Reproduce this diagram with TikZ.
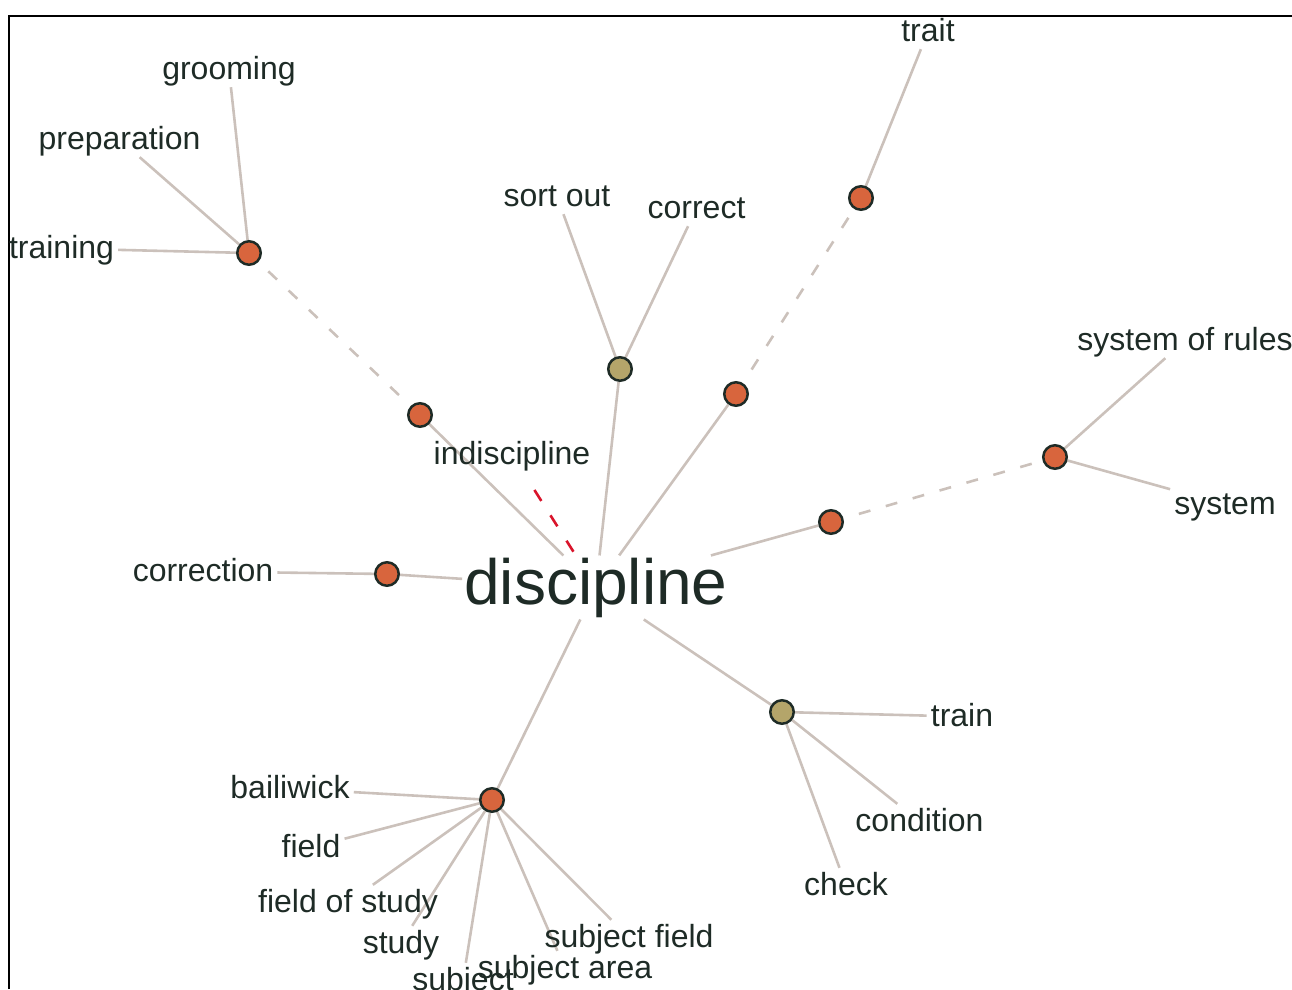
\documentclass[tikz,border=0pt]{standalone}
\usepackage{fontspec}
\setmainfont{Liberation Sans}
\usetikzlibrary{backgrounds}
\definecolor{hubred}{HTML}{D8653D}
\definecolor{hubolive}{HTML}{B4A56A}
\definecolor{linkgray}{HTML}{CBC1BB}
\definecolor{inkgreen}{HTML}{1E2B26}
\definecolor{antired}{HTML}{D9142B}

\begin{document}
\begin{tikzpicture}[x=1pt,y=-1pt,
		word/.style={anchor=base,inner sep=4pt,text height=23pt,text depth=4pt,text=inkgreen,font=\fontsize{32}{38}\selectfont},
		hub/.style={circle,draw=inkgreen,line width=2.5pt,minimum size=23.5pt,inner sep=0pt},
		link/.style={draw=linkgray,line width=2.6pt},
		farlink/.style={link,dash pattern=on 12pt off 16pt,dash phase=12pt},
		antonym/.style={draw=antired,line width=2.6pt,dash pattern=on 13pt off 17pt,dash phase=13pt,shorten <=4pt}]
		\useasboundingbox (0,0) rectangle (1292,989);
		\draw[line width=2pt] (8.5,989) -- (8.5,15.7) -- (1292,15.7);

		\node (disc)[anchor=base,inner sep=2pt,text=inkgreen,font=\fontsize{64}{70}\selectfont] at (596,604) {discipline};

		% meaning nodes
		\node (mtrain)[hub,fill=hubred] at (249,253) {};
		\node (mindisc)[hub,fill=hubred] at (420,415) {};
		\node (mfix)[hub,fill=hubolive] at (620,369) {};
		\node (mtrait1)[hub,fill=hubred] at (736,394) {};
		\node (mtrait)[hub,fill=hubred] at (861,198) {};
		\node (mrule1)[hub,fill=hubred] at (831,522) {};
		\node (mrule)[hub,fill=hubred] at (1055,457) {};
		\node (mcorr)[hub,fill=hubred] at (387,574) {};
		\node (mteach)[hub,fill=hubolive] at (782,712) {};
		\node (mfield)[hub,fill=hubred] at (492,800) {};

		% words
		\node (grooming)[word] at (229,79) {grooming};
		\node (preparation)[word] at (119.5,149) {preparation};
		\node (training)[word] at (61.5,258) {training};
		\node (indisc)[word] at (512,464) {indiscipline};
		\node (sortout)[word] at (557,206) {sort out};
		\node (correct)[word] at (696.5,218) {correct};
		\node (trait)[word] at (928,41) {trait};
		\node (sysrules)[word] at (1185,350) {system of rules};
		\node (system)[word] at (1225,514) {system};
		\node (correction)[word] at (203,581) {correction};
		\node (train)[word] at (962,726) {train};
		\node (condition)[word] at (919.5,831) {condition};
		\node (check)[word] at (846,895) {check};
		\node (bailiwick)[word] at (290,798) {bailiwick};
		\node (field)[word] at (311,857) {field};
		\node (fieldstudy)[word] at (348,912) {field of study};
		\node (study)[word] at (401,953) {study};
		\node (subject)[word] at (463,990) {subject};
		\node (subjarea)[word] at (565,978) {subject area};
		\node (subjfield)[word] at (629,947) {subject field};

		\begin{scope}[on background layer]
			\foreach \m in {mindisc,mfix,mtrait1,mrule1,mcorr,mteach,mfield}{
				\draw[link] (disc) -- (\m);
			}
			\draw[farlink] (mindisc) -- (mtrain);
			\draw[farlink] (mtrait1) -- (mtrait);
			\draw[farlink] (mrule1) -- (mrule);
			\foreach \w in {grooming,preparation,training}{
				\draw[link] (mtrain) -- (\w);
			}
			\foreach \w in {sortout,correct}{
				\draw[link] (mfix) -- (\w);
			}
			\draw[link] (mtrait) -- (trait);
			\foreach \w in {sysrules,system}{
				\draw[link] (mrule) -- (\w);
			}
			\draw[link] (mcorr) -- (correction);
			\foreach \w in {train,condition,check}{
				\draw[link] (mteach) -- (\w);
			}
			\foreach \w in {bailiwick,field,fieldstudy,study,subject,subjarea,subjfield}{
				\draw[link] (mfield) -- (\w);
			}
			\draw[antonym] (indisc) -- (disc);
		\end{scope}
	\end{tikzpicture}
\end{document}
